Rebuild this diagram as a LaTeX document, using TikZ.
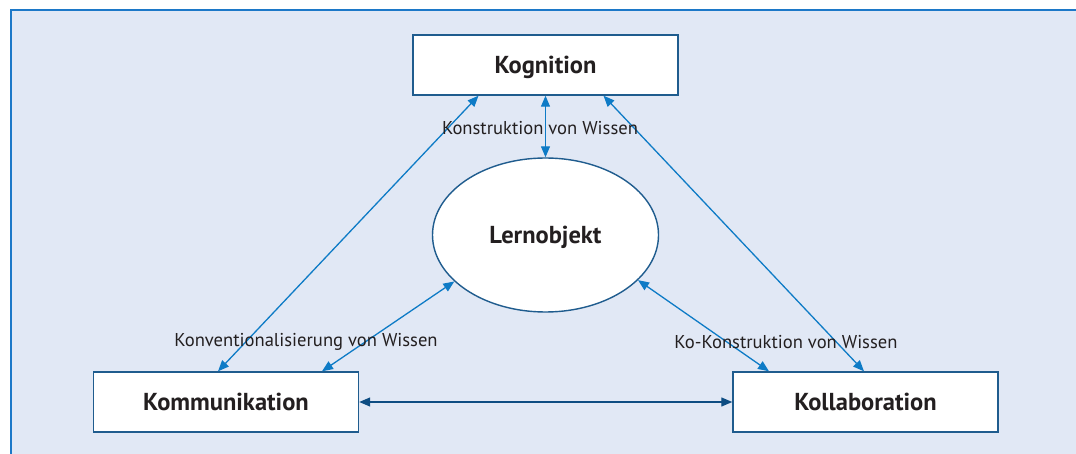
\documentclass[tikz,border=0pt]{standalone}
\usepackage{fontspec}
\setmainfont{PT Sans}
\usetikzlibrary{calc, arrows.meta, shapes.geometric}
\definecolor{panelbg}{HTML}{E1E8F5}
\definecolor{panelline}{HTML}{1C78C8}
\definecolor{boxline}{HTML}{1F5C8E}
\definecolor{linkblue}{HTML}{0E7BC6}
\definecolor{linkdark}{HTML}{0D4C82}
\definecolor{textgray}{HTML}{231F20}

\begin{document}
\begin{tikzpicture}[
    x=1pt, y=-1pt,
    >={Triangle[length=11pt, width=9pt]},
    box/.style={draw=boxline, fill=white, line width=1.4pt,
        minimum width=265pt, minimum height=60pt, inner sep=0pt,
        text height=17.6pt, text depth=0pt,
        font=\fontsize{24.5}{28}\selectfont\bfseries, text=textgray},
    blob/.style={ellipse, draw=boxline, fill=white, line width=1.4pt,
        minimum width=226pt, minimum height=154pt, inner sep=0pt,
        text height=17.6pt, text depth=0pt,
        font=\fontsize{24.5}{28}\selectfont\bfseries, text=textgray},
    link/.style={<->, linkblue, line width=1.3pt},
    tag/.style={font=\fontsize{18.6}{22}\selectfont, text=textgray, inner sep=0pt}
]

    % Panel background with rule on top and left
    \useasboundingbox (0,0) rectangle (1076,454);
    \fill[panelbg] (10,9) rectangle (1076,454);
    \draw[panelline, line width=1.6pt] (10.8,454) -- (10.8,9.8) -- (1076,9.8);

    % Corner boxes and the centre ellipse
    \node[box] (kog) at (545.5,65) {Kognition};
    \node[box] (kom) at (226,402) {Kommunikation};
    \node[box] (kol) at (865.5,402) {Kollaboration};
    \node[blob] (lern) at (545.5,235) {Lernobjekt};

    % Connectors
    \draw[link] (kog.south) -- (lern.north);
    \draw[link] ($(kog.south)+(-67,0)$) -- ($(kom.north)+(-8,0)$);
    \draw[link] ($(kog.south)+(58,0)$) -- ($(kol.north)+(-1.5,0)$);
    \draw[link] (lern.207) -- ($(kom.north)+(96,0)$);
    \draw[link] (lern.334) -- ($(kol.north)+(-96.5,0)$);
    \draw[link, linkdark] (kom.east) -- (kol.west);

    % Connector labels
    \node[tag] (konstr) at (540,128) {Konstruktion von Wissen};
    \node[tag] (konv) at (306,342) {Konventionalisierung von Wissen};
    \node[tag] (kokon) at (786,342) {Ko-Konstruktion von Wissen};

\end{tikzpicture}
\end{document}
